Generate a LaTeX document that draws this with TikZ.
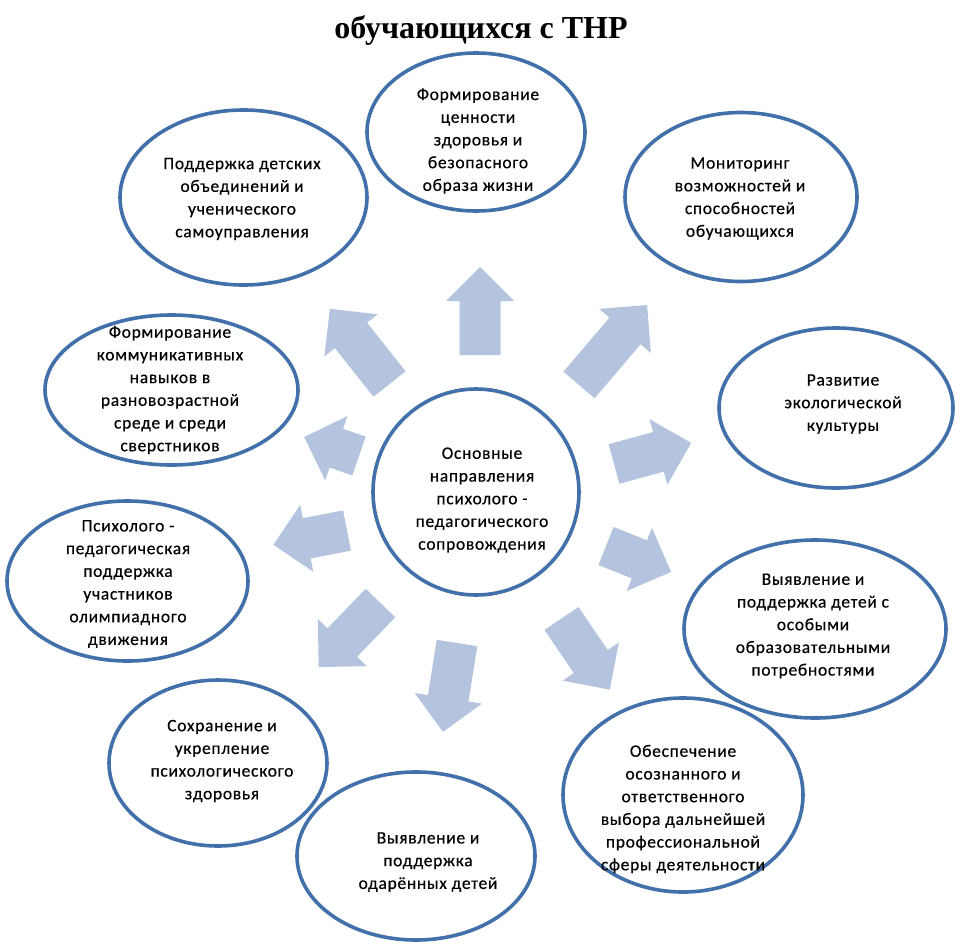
\documentclass[tikz,border=0pt]{standalone}
\usepackage{fontspec}
\setmainfont[LetterSpace=4,FakeBold=0.4]{Carlito}
\newfontfamily\titlefont{Liberation Serif}
\usetikzlibrary{shapes.geometric}
\definecolor{ellblue}{RGB}{65,112,170}
\definecolor{arrfill}{RGB}{180,196,222}
\tikzset{
  ell/.style={ellipse, draw=ellblue, line width=3.6pt, fill=white, inner sep=0pt},
  lbl/.style={align=center, font=\fontsize{17.5}{22.7}\selectfont, inner sep=0pt, text=black},
}
\newcommand\blockarrow[3]{%
  \begin{scope}[shift={#1}, rotate=#2]
    \fill[arrfill] (0,-20.5) -- ({#3-34},-20.5) -- ({#3-34},-34) -- (#3,0) -- ({#3-34},34) -- ({#3-34},20.5) -- (0,20.5) -- cycle;
  \end{scope}}
\begin{document}
\begin{tikzpicture}[x=1pt,y=-1pt]
\useasboundingbox[fill=white] (0,0) rectangle (963,945);

% title
\node[font=\titlefont\bfseries\fontsize{32}{34}\selectfont, anchor=base, inner sep=0pt] (title) at (481,38) {обучающихся с ТНР};

% arrows
\blockarrow{(480,355)}{90}{88}
\blockarrow{(579,385)}{49.6}{105}
\blockarrow{(614,464)}{15.3}{80}
\blockarrow{(606,546)}{-21.8}{70}
\blockarrow{(561.5,618.5)}{-55.8}{86}
\blockarrow{(457,643)}{-99}{90}
\blockarrow{(380.5,603)}{226}{89}
\blockarrow{(347,530.5)}{191}{75}
\blockarrow{(359,456)}{161}{58}
\blockarrow{(389.5,384)}{128.4}{96}

% ellipses
\node[ell, minimum width=247, minimum height=175] (e10) at (243.5,197.5) {};
\node[ell, minimum width=218, minimum height=158] (e1) at (476,132) {};
\node[ell, minimum width=232, minimum height=169] (e2) at (741,197) {};
\node[ell, minimum width=234, minimum height=160] (e3) at (836,408) {};
\node[ell, minimum width=253, minimum height=150] (e9) at (171.5,390) {};
\node[ell, minimum width=241, minimum height=160] (e8) at (127.5,581) {};
\node[ell, minimum width=218, minimum height=166] (e7) at (218,763) {};
\node[ell, minimum width=262, minimum height=178] (e4) at (815,629) {};
\node[ell, minimum width=240, minimum height=194] (e5) at (683,795) {};
\node[ell, minimum width=238, minimum height=168] (e6) at (416,856) {};
\node[ell, circle, minimum size=206] (c) at (476,492) {};

% labels
\node[lbl] (t1) at (478,141) {Формирование\\ценности\\здоровья и\\безопасного\\образа жизни};
\node[lbl] (t2) at (740,198.5) {Мониторинг\\возможностей и\\способностей\\обучающихся};
\node[lbl] (t3) at (843,404) {Развитие\\экологической\\культуры};
\node[lbl] (t4) at (813,626) {Выявление и\\поддержка детей с\\особыми\\образовательными\\потребностями};
\node[lbl] (t5) at (683,809) {Обеспечение\\осознанного и\\ответственного\\выбора дальнейшей\\профессиональной\\сферы деятельности};
\node[lbl] (t6) at (428,862) {Выявление и\\поддержка\\одарённых детей};
\node[lbl] (t7) at (222,761) {Сохранение и\\укрепление\\психологического\\здоровья};
\node[lbl] (t8) at (128,584) {Психолого -\\педагогическая\\поддержка\\участников\\олимпиадного\\движения};
\node[lbl] (t9) at (170,390) {Формирование\\коммуникативных\\навыков в\\разновозрастной\\среде и среди\\сверстников};
\node[lbl] (t10) at (242,199) {Поддержка детских\\объединений и\\ученического\\самоуправления};
\node[lbl] (tc) at (482,500) {Основные\\направления\\психолого -\\педагогического\\сопровождения};
\end{tikzpicture}
\end{document}
